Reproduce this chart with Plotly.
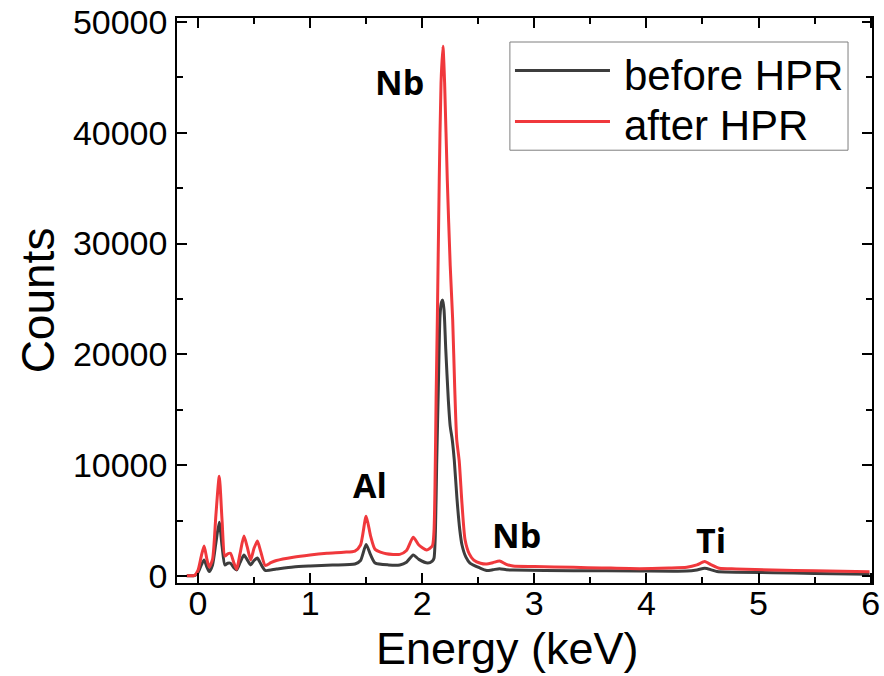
import plotly.graph_objects as go

# ---- data ----
energy_before = [-0.10, -0.03, 0.00, 0.03, 0.055, 0.08, 0.10, 0.13, 0.16, 0.19, 0.215, 0.24, 0.265, 0.29,
                 0.32, 0.345, 0.375, 0.41, 0.44, 0.47, 0.50, 0.53, 0.56, 0.60, 0.70, 0.85, 1.00, 1.20,
                 1.40, 1.45, 1.50, 1.54, 1.58, 1.70, 1.80, 1.86, 1.92, 1.97, 2.05, 2.09, 2.105, 2.118,
                 2.129, 2.144, 2.159, 2.172, 2.183, 2.195, 2.21, 2.233, 2.25, 2.268, 2.286, 2.31, 2.335,
                 2.355, 2.39, 2.426, 2.516, 2.575, 2.63, 2.69, 2.75, 2.81, 3.35, 3.94, 4.36, 4.45, 4.52,
                 4.58, 4.63, 5.13, 5.50, 5.99]
counts_before = [20, 40, 300, 1000, 1450, 800, 400, 1000, 3000, 4850, 2700, 1000, 1150, 1150,
                 750, 550, 1200, 1900, 1450, 1000, 1400, 1620, 1100, 500, 630, 810, 900, 990,
                 1080, 1400, 2850, 1900, 1170, 1000, 1000, 1250, 1900, 1500, 1170, 1350, 1600, 4000,
                 10000, 17000, 23500, 24700, 24900, 24000, 20500, 15900, 13500, 12300, 10470, 7000, 4200,
                 2800, 1700, 1170, 720, 500, 560, 660, 560, 540, 480, 450, 450, 550, 690,
                 550, 400, 300, 230, 150]

energy_after = [-0.10, -0.03, 0.00, 0.03, 0.055, 0.08, 0.10, 0.13, 0.16, 0.19, 0.215, 0.24, 0.265, 0.29,
                0.32, 0.345, 0.375, 0.41, 0.44, 0.47, 0.50, 0.53, 0.56, 0.60, 0.65, 0.70, 0.85, 1.00,
                1.15, 1.30, 1.40, 1.45, 1.50, 1.54, 1.58, 1.68, 1.80, 1.86, 1.92, 1.97, 2.04, 2.09,
                2.105, 2.114, 2.124, 2.135, 2.152, 2.168, 2.185, 2.20, 2.224, 2.25, 2.272, 2.29, 2.308,
                2.33, 2.355, 2.382, 2.42, 2.46, 2.52, 2.575, 2.63, 2.69, 2.75, 2.81, 3.00, 3.35, 3.60,
                3.94, 4.20, 4.36, 4.45, 4.52, 4.58, 4.65, 4.80, 5.13, 5.50, 5.99]
counts_after = [30, 60, 500, 1800, 2700, 1500, 800, 1500, 5500, 9000, 5000, 1800, 2000, 2050,
                1200, 600, 2000, 3600, 2600, 1450, 2500, 3150, 2200, 950, 1200, 1400, 1700, 1900,
                2050, 2150, 2250, 2800, 5400, 3600, 2400, 2000, 1950, 2300, 3500, 2800, 2350, 2700,
                4000, 8000, 16000, 23100, 35700, 44500, 47800, 44500, 35700, 28000, 23100, 17000, 12300,
                10400, 6500, 3300, 2000, 1440, 1150, 1080, 1200, 1350, 1050, 900, 850, 780, 730,
                660, 720, 790, 1000, 1300, 1000, 700, 640, 540, 470, 390]

series_names = ["before HPR", "after HPR"]
series_colors = ["#3d3d3d", "#f0383c"]

peak_labels = ["Nb", "Al", "Nb", "Ti"]
peak_label_x = [1.80, 1.53, 2.84, 4.58]
peak_label_y = [44600, 8200, 3700, 3250]

x_ticks = [0, 1, 2, 3, 4, 5, 6]
x_tick_text = ["0", "1", "2", "3", "4", "5", "6"]
y_ticks = [0, 10000, 20000, 30000, 40000, 50000]
y_tick_text = ["0", "10000", "20000", "30000", "40000", "50000"]

FONT = "Liberation Sans, Arial, sans-serif"

fig = go.Figure()
fig.add_trace(go.Scatter(x=energy_before, y=counts_before, mode="lines", name=series_names[0],
                         line=dict(color=series_colors[0], width=3, shape="spline", smoothing=0.6),
                         showlegend=False))
fig.add_trace(go.Scatter(x=energy_after, y=counts_after, mode="lines", name=series_names[1],
                         line=dict(color=series_colors[1], width=3, shape="spline", smoothing=0.6),
                         showlegend=False))

for t, x, y in zip(peak_labels, peak_label_x, peak_label_y):
    fig.add_annotation(x=x, y=y, xref="x", yref="y", text="<b>%s</b>" % t, showarrow=False,
                       font=dict(family="Open Sans, sans-serif", size=34, color="black"))

# custom legend (paper coordinates)
fig.add_shape(type="rect", xref="paper", yref="paper", x0=0.479, x1=0.9655, y0=0.766, y1=0.9575,
              line=dict(color="#7f7f7f", width=1), fillcolor="white", layer="below")
leg_y = [0.907, 0.817]
for name, col, ly in zip(series_names, series_colors, leg_y):
    fig.add_shape(type="line", xref="paper", yref="paper", x0=0.4863, x1=0.623, y0=ly, y1=ly,
                  line=dict(color=col, width=3))
    fig.add_annotation(x=0.6403, y=ly - 0.008, xref="paper", yref="paper", text=name, showarrow=False,
                       xanchor="left", yanchor="middle", font=dict(family=FONT, size=42, color="black"))

# x-axis title (placed as annotation to match the reference's tight spacing)
fig.add_annotation(x=0.4755, y=-0.1168, xref="paper", yref="paper", text="Energy (keV)", showarrow=False,
                   xanchor="center", yanchor="middle", font=dict(family=FONT, size=45, color="black"))

axis_common = dict(showgrid=False, zeroline=False, showline=True, linecolor="black", linewidth=1.5,
                   mirror="ticks", ticks="inside", ticklen=10, tickwidth=1.5, tickcolor="black",
                   tickfont=dict(family=FONT, size=34, color="black"))

fig.update_xaxes(range=[-0.187, 6.012], tickmode="array", tickvals=x_ticks, ticktext=x_tick_text,
                 ticklabelstandoff=-11,
                 minor=dict(dtick=0.5, tick0=0, ticks="inside", ticklen=6, tickwidth=1.5, tickcolor="black"),
                 **axis_common)
fig.update_yaxes(range=[-632, 50360], tickmode="array", tickvals=y_ticks, ticktext=y_tick_text,
                 ticklabelstandoff=1,
                 minor=dict(dtick=5000, tick0=0, ticks="inside", ticklen=6, tickwidth=1.5, tickcolor="black"),
                 title=dict(text="Counts", font=dict(family=FONT, size=46, color="black"), standoff=4),
                 **axis_common)

fig.update_layout(width=884, height=676, margin=dict(l=177, r=12, t=18, b=93, autoexpand=False),
                  plot_bgcolor="white", paper_bgcolor="white", showlegend=False,
                  font=dict(family=FONT, color="black"))

fig.write_html("out.html", config={"displayModeBar": False},
               post_script="document.body.style.margin='0px';")
